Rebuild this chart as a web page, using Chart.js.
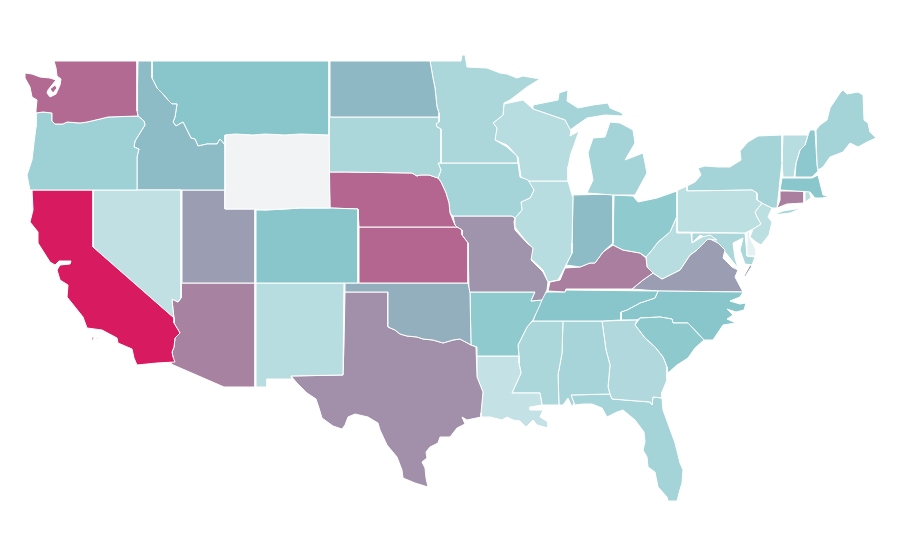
<!DOCTYPE html>
<html>
<head>
<meta charset="utf-8">
<title>US states choropleth</title>
<script src="https://cdn.jsdelivr.net/npm/chart.js@4/dist/chart.umd.min.js"></script>
<style>
  html, body { margin: 0; padding: 0; background: #fff; }
  canvas { display: block; }
</style>
</head>
<body>
<canvas id="map" width="900" height="560"></canvas>
<script>
const stateNames = ['WA','OR','CA','NV','ID','MT','WY','UT','AZ','CO','NM','ND','SD','NE','KS','OK','TX','MN','IA','MO','AR','LA','WI','IL','MI','IN','OH','KY','TN','MS','AL','GA','FL','SC','NC','WV','VA','PA','NY','VT','NH','ME','MA','CT','RI','NJ','DE','MD'];

// null = no data (Wyoming)
const stateValues = [77,38,100,20,53,50,null,62,70,50,24,54,31,78,78,57,66,31,35,65,46,18,24,24,35,53,46,71,50,31,34,28,35,47,50,24,62,22,35,24,48,35,49,71,24,22,1,31];

// outlines in map units, one list per ring
const stateOutlines = [
  [[54,61,137,61,137,111,138,116,108,117,100,119,87,122,80,123,67,122,63,124,55,124,52,121,52,113,43,112,36,113,36,110,37,100,32,97,30,87,25,78,25,73,32,74,40,77,50,78,56,80,48,90,47,93,50,97,56,94,60,85,61,79,57,76,56,68],[50,89,55,85,57,88,53,93]],
  [[138,116,108,117,100,119,87,122,80,123,67,122,63,124,55,124,52,121,52,113,43,112,36,113,36,127,34,143,32,160,27,175,30,190,137,190,137,157,139,149,134,147,135,141,140,133,145,125,144,121]],
  [[32,190,93,190,93,247,174,318,174,323,180,333,175,338,174,347,172,352,173,357,175,362,157,363,137,365,134,358,132,349,118,343,117,338,102,330,87,328,83,317,67,297,68,285,60,280,57,270,60,265,70,264,71,261,59,261,55,265,50,262,38,243,38,232,30,222,33,210],[92,337,94,337,94,340,92,340],[97,338,99,338,99,339,97,339]],
  [[93,190,181,190,181,298,178,302,172,299,173,310,174,318,93,247]],
  [[138,61,152,61,152,78,157,88,162,93,168,100,172,104,177,104,175,117,173,122,176,126,183,122,188,132,191,138,195,139,198,146,207,144,217,144,220,139,225,145,225,190,137,190,137,157,139,149,134,147,135,141,140,133,145,125,144,121,138,116,137,111]],
  [[152,61,329,61,329,135,300,134,285,135,265,134,253,135,235,134,225,135,225,145,220,139,217,144,207,144,198,146,195,139,191,138,188,132,183,122,176,126,173,122,175,117,177,104,172,104,168,100,162,93,157,88,152,78]],
  [[225,135,235,134,253,135,265,134,285,135,300,134,329,135,330,208,300,208,285,209,265,210,253,209,225,209]],
  [[182,190,225,190,225,209,255,209,255,283,182,283]],
  [[181,283,255,283,255,387,224,387,171,364,173,357,172,352,174,347,175,338,180,333,174,323,174,318,173,310,172,299,178,302,181,298]],
  [[256,210,265,210,285,209,300,208,330,208,358,209,358,283,256,283]],
  [[256,283,344,283,343,375,291,376,292,379,267,379,267,387,256,387]],
  [[330,61,430,61,433,78,435,88,437,107,439,113,439,117,330,117]],
  [[329,117,439,117,439,122,436,124,437,127,441,129,441,163,438,163,441,170,438,178,429,175,420,175,417,176,412,173,347,172,340,172,329,172]],
  [[329,172,340,172,347,172,412,173,417,176,420,175,429,175,438,178,441,182,446,193,449,203,450,213,455,225,457,227,359,227,358,209,330,208]],
  [[359,227,457,227,462,230,462,235,468,243,468,283,359,283]],
  [[345,283,468,283,470,293,471,345,460,339,453,340,443,343,433,340,423,339,417,337,407,336,400,334,395,330,388,327,388,292,345,292]],
  [[345,292,388,292,388,327,395,330,400,334,407,336,417,337,423,339,433,340,443,343,453,340,460,339,471,345,476,347,477,377,483,392,481,413,481,417,467,420,462,417,465,424,457,428,450,437,440,437,438,443,430,447,426,452,427,458,422,462,425,468,426,478,428,487,415,483,403,478,402,470,397,457,387,445,380,430,378,423,368,417,355,414,348,417,345,425,342,429,333,426,322,418,319,408,316,399,307,393,297,383,291,376,343,375,344,345]],
  [[430,61,461,61,462,55,465,55,467,67,487,68,500,73,507,74,517,78,523,76,540,79,527,87,510,100,504,103,503,115,493,123,497,128,495,140,507,147,517,156,518,163,441,163,441,129,437,127,436,124,439,122,439,117,439,113,437,107,435,88,433,78]],
  [[441,163,518,163,520,177,528,180,534,190,530,198,521,202,522,210,515,218,512,216,453,216,450,213,449,203,446,193,441,182,438,178,441,170,438,163]],
  [[453,216,512,216,515,218,514,222,515,230,527,243,533,248,531,260,543,272,548,282,547,290,542,300,531,301,535,292,469,292,468,243,462,235,462,230,457,227,455,225]],
  [[469,292,535,292,531,301,542,300,540,305,533,320,527,327,518,345,519,356,477,356,477,347,471,345,470,293]],
  [[477,356,519,356,519,363,521,373,512,393,540,393,542,405,530,407,530,410,543,410,540,417,548,422,548,428,537,425,533,420,526,427,520,421,513,420,507,417,502,420,490,417,481,417,481,413,483,392,477,377]],
  [[504,104,523,100,533,109,565,120,571,131,570,136,579,131,573,148,571,153,568,167,568,181,528,181,521,177,518,157,507,145,495,140,496,128,493,123,503,115]],
  [[528,181,568,181,572,195,573,197,572,243,572,253,566,265,562,273,558,280,548,282,543,270,530,258,533,248,525,240,515,227,515,218,522,210,521,202,530,198,534,190]],
  [[533,105,558,100,559,93,568,90,567,101,578,108,593,105,608,103,610,108,622,113,623,116,605,115,587,118,577,125,570,130,565,120,533,109],[587,193,593,180,588,153,593,138,605,137,610,122,620,123,633,130,635,143,625,160,643,153,647,173,635,195,613,195]],
  [[573,195,613,194,613,243,603,252,595,263,590,263,580,267,566,265,572,253,572,243]],
  [[614,195,633,196,638,202,657,198,677,191,677,216,670,232,658,242,652,250,646,257,640,253,623,250,613,245]],
  [[548,291,550,282,560,280,565,268,580,267,590,263,595,263,603,252,613,245,623,250,640,253,646,258,647,267,653,273,643,280,632,289,602,289,566,289,565,292]],
  [[566,290,658,291,655,298,640,303,627,310,621,312,621,320,602,321,563,321,533,321,538,307,542,297,547,292,565,292]],
  [[533,321,563,321,562,353,558,375,559,405,553,405,542,405,540,393,512,393,521,373,519,363,519,356,518,345,527,327]],
  [[563,321,602,321,606,350,610,365,608,387,610,394,571,395,574,403,572,407,568,398,563,405,559,405,558,375,562,353]],
  [[602,321,637,320,635,325,645,338,655,347,663,357,667,367,667,380,662,392,662,398,653,397,652,405,650,402,612,399,610,394,608,387,610,365,606,350]],
  [[571,395,610,394,612,399,650,402,652,405,653,397,662,398,663,410,675,443,680,463,683,470,682,483,679,493,677,501,668,501,667,497,658,487,655,472,648,467,647,457,643,450,645,442,644,432,635,420,623,410,617,412,613,414,607,417,602,408,592,404,583,404,575,405,574,403]],
  [[635,325,640,318,660,317,672,319,673,323,688,323,704,340,695,348,688,358,677,365,668,373,667,367,663,357,655,347,645,338]],
  [[658,291,743,292,740,297,730,301,740,304,746,303,744,310,736,312,727,309,733,315,727,319,736,323,723,325,713,340,704,340,688,323,673,323,672,319,660,317,640,318,637,320,621,320,621,312,627,310,640,303,655,298]],
  [[646,257,652,250,658,242,670,232,677,216,677,233,691,233,692,243,702,237,710,235,717,240,708,239,697,250,690,255,680,270,670,275,662,279,653,273,647,267]],
  [[632,289,643,280,653,273,662,279,670,275,680,270,690,255,697,250,708,239,710,239,718,243,725,250,723,258,732,267,738,270,735,277,743,292,658,291],[750,265,752,266,745,277,744,276]],
  [[676,191,687,186,687,191,752,190,757,193,757,200,762,203,755,212,757,217,761,224,753,229,745,233,676,232]],
  [[687,186,695,182,701,175,698,168,705,166,718,167,730,167,741,160,740,151,748,142,758,136,782,135,782,162,780,180,779,190,777,208,772,208,762,203,757,200,757,193,752,190,687,191],[773,215,783,211,802,208,790,213]],
  [[783,135,808,135,805,145,800,150,796,163,794,177,783,177,782,162]],
  [[810,130,815,130,817,165,818,171,812,177,795,177,796,163,800,150,805,145,808,135]],
  [[816,130,820,125,827,120,830,108,840,93,843,90,847,94,858,92,863,95,864,120,868,123,870,132,876,138,867,142,858,147,850,143,843,152,830,157,823,167,818,170,817,165]],
  [[782,178,812,178,818,175,820,183,823,195,830,196,822,198,815,198,810,192,780,190]],
  [[780,191,804,191,804,203,787,204,777,208,780,200]],
  [[805,191,809,191,811,198,805,202]],
  [[762,203,772,208,768,217,772,222,769,235,761,245,756,242,750,237,753,229,761,224,757,217,755,212]],
  [[747,231,750,232,750,238,756,250,756,256,747,256]],
  [[692,233,745,233,747,256,755,257,752,265,745,264,740,250,743,238,733,243,735,258,738,268,725,252,718,243,710,239,700,235,692,243]]
];

const rampStops = [0, 50, 100];
const rampColors = [[229,242,243], [136,198,204], [216,27,96]];
const noDataColor = '#f2f3f5';

function valueColor(v) {
  if (v === null) return noDataColor;
  const i = v < rampStops[1] ? 0 : 1;
  const t = (v - rampStops[i]) / (rampStops[i + 1] - rampStops[i]);
  const c = rampColors[i].map((a, k) => Math.round(a + (rampColors[i + 1][k] - a) * t));
  return `rgb(${c[0]},${c[1]},${c[2]})`;
}

function ringPoints(ring) {
  const pts = [];
  for (let i = 0; i < ring.length; i += 2) pts.push({ x: ring[i], y: ring[i + 1] });
  pts.push(pts[0]); // close the shape
  return pts;
}

// every state ring becomes a filled, closed line dataset
const datasets = [];
stateNames.forEach((name, i) => {
  stateOutlines[i].forEach(ring => {
    datasets.push({
      label: name,
      data: ringPoints(ring),
      showLine: true,
      fill: 'shape',
      tension: 0,
      pointRadius: 0,
      pointHitRadius: 0,
      borderWidth: 1,
      borderColor: '#ffffff',
      borderJoinStyle: 'round',
      backgroundColor: valueColor(stateValues[i]),
      clip: false
    });
  });
});

new Chart(document.getElementById('map'), {
  type: 'scatter',
  data: { datasets },
  options: {
    responsive: false,
    animation: false,
    layout: { padding: 0 },
    plugins: {
      legend: { display: false },
      tooltip: { enabled: false }
    },
    scales: {
      x: { type: 'linear', min: 0, max: 900, display: false },
      y: { type: 'linear', min: 0, max: 560, reverse: true, display: false }
    }
  }
});
</script>
</body>
</html>
